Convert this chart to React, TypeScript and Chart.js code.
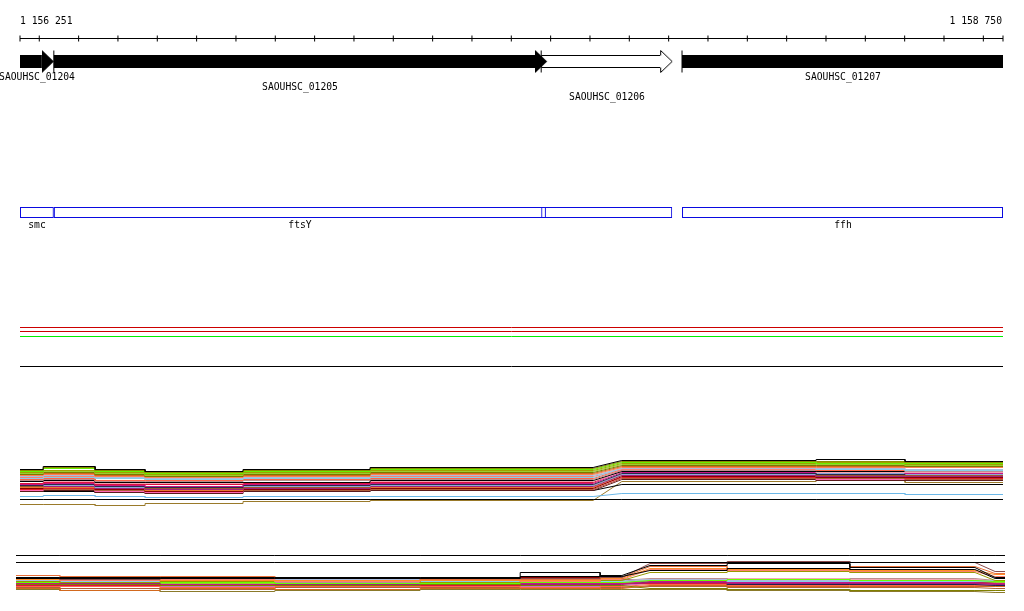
import React, { useEffect, useRef } from "react";
import { Chart, registerables } from "chart.js";
Chart.register(...registerables);

// ---------- data ----------
const VIEW_START = 1156251;
const VIEW_END = 1158750;
const RULER_TICKS = [
  1156251, 1156300, 1156400, 1156500, 1156600, 1156700, 1156800, 1156900, 1157000,
  1157100, 1157200, 1157300, 1157400, 1157500, 1157600, 1157700, 1157800, 1157900,
  1158000, 1158100, 1158200, 1158300, 1158400, 1158500, 1158600, 1158700, 1158750,
];
const RULER_LABELS = ["1 156 251", "1 158 750"];

const GENE_NAMES = ["SAOUHSC_01204", "SAOUHSC_01205", "SAOUHSC_01206", "SAOUHSC_01207"];
const GENE_STARTS = [1156180, 1156337, 1157576, 1157934];
const GENE_ENDS = [1156337, 1157591, 1157909, 1158820];
const GENE_FILLED = [true, true, false, true];
const GENE_LABEL_LEVEL = [0, 1, 2, 0];

const FEATURE_NAMES = ["smc", "ftsY", "", "ffh"];
const FEATURE_STARTS = [1156251, 1156337, 1157576, 1157934];
const FEATURE_ENDS = [1156337, 1157588, 1157909, 1158750];

const FLAT_LEVELS = [42, 38, 33, 3];
const FLAT_COLORS = ["#cc0000", "#cc0000", "#00ee00", "#000000"];

// middle expression panel: segment breaks (bp); ramp = sloped join
const MID_BREAKS = [1156251, 1156310, 1156442, 1156569, 1156818, 1157141, 1157708, 1157781, 1158275, 1158501, 1158750];
const MID_RAMPS = [false, false, false, false, false, false, true, false, false, false];
const mid01 = [40, 43, 40, 38, 40, 42, 49, 50, 48];
const mid02 = [39, 42, 39, 37, 39, 41, 48, 48, 47];
const mid03 = [38, 41, 38, 36, 38, 40, 47, 46, 46];
const mid04 = [37, 39, 37, 35, 37, 39, 46, 47, 45];
const mid05 = [36, 38, 36, 34, 36, 38, 45, 45, 44];
const mid06 = [35, 37, 35, 33, 35, 37, 44, 44, 43];
const mid07 = [35, 36, 34, 33, 34, 36, 43, 43, 43];
const mid08 = [34, 35, 33, 32, 33, 35, 42, 42, 42];
const mid09 = [33, 34, 32, 31, 32, 34, 41, 41, 40];
const mid10 = [31, 32, 31, 30, 31, 32, 41, 40, 39];
const mid11 = [32, 33, 31, 30, 31, 33, 40, 40, 40];
const mid12 = [30, 31, 29, 29, 30, 31, 40, 39, 39];
const mid13 = [29, 30, 28, 28, 29, 30, 39, 39, 38];
const mid14 = [28, 29, 27, 27, 27, 29, 38, 38, 38];
const mid15 = [28, 28, 26, 26, 27, 28, 38, 37, 37];
const mid16 = [26, 27, 25, 25, 26, 27, 39, 38, 38];
const mid17 = [25, 26, 24, 23, 25, 26, 37, 37, 36];
const mid18 = [24, 25, 23, 22, 24, 25, 36, 35, 36];
const mid19 = [25, 24, 22, 23, 23, 24, 35, 36, 35];
const mid20 = [23, 24, 22, 21, 22, 24, 35, 34, 34];
const mid21 = [23, 23, 21, 20, 21, 23, 34, 33, 33];
const mid22 = [22, 22, 21, 19, 21, 22, 34, 33, 34];
const mid23 = [21, 22, 20, 18, 20, 21, 33, 32, 32];
const mid24 = [20, 21, 20, 20, 21, 22, 32, 32, 31];
const mid25 = [20, 20, 19, 18, 19, 20, 31, 31, 30];
const mid26 = [19, 20, 18, 17, 19, 20, 31, 30, 30];
const mid27 = [18, 19, 17, 16, 18, 19, 30, 29, 29];
const mid28 = [18, 18, 17, 17, 18, 19, 25, 25, 25];
const mid29 = [13, 14, 13, 12, 13, 13, 16, 16, 15];
const mid30 = [10, 10, 10, 10, 10, 10, 10, 10, 10];
const mid31 = [5, 5, 4, 6, 8, 9, 28, 29, 27];
const MID_SERIES = [mid01, mid02, mid03, mid04, mid05, mid06, mid07, mid08, mid09, mid10, mid11, mid12, mid13, mid14, mid15, mid16, mid17, mid18, mid19, mid20, mid21, mid22, mid23, mid24, mid25, mid26, mid27, mid28, mid29, mid30, mid31];
const MID_COLORS = ["#000000", "#8c8c00", "#66ee00", "#a0a000", "#9acd32", "#7a7a00", "#d2691e", "#ff7f50", "#a9bde0", "#87ceeb", "#fa8072", "#ff6347", "#bc8f8f", "#000000", "#f4a0b0", "#dc143c", "#c71585", "#2b2b4b", "#8fa8d8", "#a0522d", "#a0207a", "#e87830", "#8b0000", "#e0202a", "#b0603a", "#ff69b4", "#5a1a1a", "#000000", "#6cb8e8", "#000000", "#9a7a2a"];

// bottom expression panel
const BOT_BREAKS = [1156251, 1156362, 1156615, 1156905, 1157272, 1157525, 1157727, 1157782, 1157853, 1158048, 1158358, 1158674, 1158725, 1158750];
const BOT_RAMPS = [false, false, false, false, false, false, false, true, false, false, false, true, false];
const bot01 = [44, 44, 44, 44, 44, 44, 44, 44, 44, 44, 44];
const bot02 = [37, 37, 37, 37, 37, 37, 37, 37, 37, 37, 37];
const bot03 = [22, 22, 22, 22, 22, 23, 24, 34, 36, 32, 22];
const bot04 = [21, 21, 21, 21, 21, 27, 23, 29, 31, 30, 21];
const bot05 = [21, 20, 21, 21, 21, 21, 22, 36, 38, 37, 28];
const bot06 = [24, 23, 23, 21, 20, 20, 22, 33, 31, 33, 26];
const bot07 = [20, 20, 19, 19, 19, 19, 21, 31, 30, 29, 25];
const bot08 = [20, 19, 20, 18, 19, 18, 20, 30, 29, 28, 23];
const bot09 = [18, 17, 18, 18, 17, 18, 19, 27, 28, 27, 19];
const bot10 = [15, 15, 14, 14, 15, 14, 14, 11, 10, 9, 9];
const bot11 = [17, 17, 17, 16, 16, 17, 17, 19, 20, 19, 18];
const bot12 = [19, 20, 20, 20, 19, 20, 19, 20, 19, 19, 19];
const bot13 = [19, 18, 19, 19, 18, 19, 18, 19, 18, 18, 18];
const bot14 = [16, 15, 15, 16, 15, 16, 16, 18, 17, 17, 16];
const bot15 = [15, 16, 14, 15, 16, 15, 15, 17, 16, 16, 15];
const bot16 = [14, 14, 15, 14, 14, 14, 16, 16, 17, 16, 16];
const bot17 = [17, 18, 17, 17, 18, 19, 19, 21, 20, 21, 19];
const bot18 = [20, 21, 19, 19, 20, 21, 20, 16, 15, 15, 14];
const bot19 = [11, 9, 11, 10, 11, 11, 11, 14, 13, 13, 13];
const bot20 = [13, 13, 12, 13, 13, 12, 13, 15, 14, 14, 14];
const bot21 = [12, 11, 10, 12, 12, 11, 12, 13, 12, 12, 11];
const bot22 = [16, 16, 16, 15, 15, 15, 16, 18, 18, 18, 17];
const bot23 = [18, 19, 18, 19, 18, 17, 18, 20, 21, 20, 19];
const bot24 = [21, 20, 20, 20, 21, 22, 21, 17, 18, 17, 17];
const bot25 = [14, 13, 13, 13, 13, 13, 14, 16, 15, 15, 15];
const bot26 = [17, 16, 16, 17, 17, 16, 17, 17, 16, 15, 15];
const bot27 = [10, 9, 8, 9, 10, 10, 10, 10, 9, 8, 7];
const BOT_SERIES = [bot01, bot02, bot03, bot04, bot05, bot06, bot07, bot08, bot09, bot10, bot11, bot12, bot13, bot14, bot15, bot16, bot17, bot18, bot19, bot20, bot21, bot22, bot23, bot24, bot25, bot26, bot27];
const BOT_COLORS = ["#000000", "#000000", "#000000", "#000000", "#8b4a4a", "#e8703a", "#ff8c28", "#fa8072", "#999900", "#808000", "#66ff00", "#a9bde0", "#87ceeb", "#c71585", "#a0207a", "#dc143c", "#bc8f8f", "#202050", "#d2691e", "#ff6347", "#b0603a", "#9acd32", "#f4a6b8", "#8b0000", "#d070c0", "#7090d0", "#8b7a2a"];

// ---------- layout ----------
const W = 1024;
const PAD_L = 20;
const PAD_R = 21;
const BOT_PAD_L = 16;
const BOT_PAD_R = 19;
const FONT = '9.7px "DejaVu Sans Mono"';
const HEAD_PX = 12;
const HEAD_BP = (HEAD_PX * (VIEW_END - VIEW_START)) / (W - PAD_L - PAD_R);

function buildSteps(breaks: number[], ramps: boolean[], values: number[]) {
  const pts: { x: number; y: number }[] = [];
  let k = 0;
  for (let i = 0; i < breaks.length - 1; i++) {
    if (ramps[i]) continue;
    pts.push({ x: breaks[i], y: values[k] }, { x: breaks[i + 1], y: values[k] });
    k++;
  }
  return pts;
}

function baseConfig(datasets: any[], h: number, reverse: boolean, padL: number, padR: number, plugins: any[] = []) {
  return {
    type: "scatter",
    data: { datasets },
    options: {
      responsive: false,
      animation: false,
      events: [],
      layout: { autoPadding: false, padding: { left: padL, right: padR, top: 0, bottom: 0 } },
      plugins: { legend: { display: false }, tooltip: { enabled: false }, title: { display: false } },
      scales: {
        x: { type: "linear", min: VIEW_START, max: VIEW_END, display: false, offset: false },
        y: { type: "linear", min: -0.5, max: h - 0.5, reverse, display: false, offset: false },
      },
    },
    plugins,
  } as any;
}

function lineDs(points: any[], color: string) {
  return {
    type: "line",
    data: points,
    borderColor: color,
    borderWidth: 1,
    pointRadius: 0,
    tension: 0,
    fill: false,
  };
}

function textPlugin(id: string, draw: (chart: any, ctx: CanvasRenderingContext2D) => void) {
  return {
    id,
    afterDatasetsDraw(chart: any) {
      const ctx = chart.ctx as CanvasRenderingContext2D;
      ctx.save();
      ctx.font = FONT;
      ctx.fillStyle = "#000";
      ctx.textBaseline = "alphabetic";
      draw(chart, ctx);
      ctx.restore();
    },
  };
}

// ---------- tracks ----------
const RULER_H = 45;
const AXIS_ROW = 38;
function rulerConfig() {
  const plugin = textPlugin("rulerLabels", (chart, ctx) => {
    const x = chart.scales.x;
    ctx.textAlign = "left";
    ctx.fillText(RULER_LABELS[0], Math.round(x.getPixelForValue(VIEW_START)), 24);
    ctx.textAlign = "right";
    ctx.fillText(RULER_LABELS[1], Math.round(x.getPixelForValue(VIEW_END)) - 1, 24);
  });
  return baseConfig(
    [
      {
        type: "scatter",
        data: RULER_TICKS.map((t) => ({ x: t, y: AXIS_ROW })),
        pointStyle: "line",
        pointRotation: 90,
        pointRadius: 3,
        pointBorderWidth: 1,
        pointBorderColor: "#000",
        clip: false,
      },
      lineDs([{ x: VIEW_START, y: AXIS_ROW }, { x: VIEW_END, y: AXIS_ROW }], "#000"),
    ],
    RULER_H,
    true,
    PAD_L,
    PAD_R,
    [plugin]
  );
}

const GENE_H = 60;
const GENE_ROW = 16;
const GENE_LABEL_BASE = 35;
function makeHead(filled: boolean) {
  const c = document.createElement("canvas");
  const pad = filled ? 0 : 2;
  c.width = 2 * (HEAD_PX + pad);
  c.height = 23;
  const g = c.getContext("2d")!;
  const tip = HEAD_PX + pad;
  if (filled) {
    g.fillStyle = "#000";
    g.beginPath();
    g.moveTo(0, 0);
    g.lineTo(tip, 11.5);
    g.lineTo(0, 23);
    g.closePath();
    g.fill();
  } else {
    g.fillStyle = "#fff";
    g.beginPath();
    g.moveTo(pad, 0);
    g.lineTo(tip, 11.5);
    g.lineTo(pad, 23);
    g.closePath();
    g.fill();
    g.fillRect(0, 6, pad + 1, 11);
    g.strokeStyle = "#000";
    g.lineWidth = 1;
    g.beginPath();
    g.moveTo(pad + 0.5, 5.5);
    g.lineTo(pad + 0.5, 0.5);
    g.lineTo(tip, 11.5);
    g.lineTo(pad + 0.5, 22.5);
    g.lineTo(pad + 0.5, 17.5);
    g.stroke();
  }
  return c;
}
function geneConfig() {
  const headIdx = GENE_ENDS.map((e, i) => i).filter((i) => GENE_ENDS[i] <= VIEW_END);
  const startIdx = GENE_STARTS.map((s, i) => i).filter((i) => GENE_STARTS[i] > VIEW_START);
  const black = makeHead(true);
  const white = makeHead(false);
  const plugin = textPlugin("geneLabels", (chart, ctx) => {
    const x = chart.scales.x;
    ctx.textAlign = "center";
    GENE_NAMES.forEach((name, i) => {
      const a = x.getPixelForValue(Math.max(GENE_STARTS[i], VIEW_START));
      const b = x.getPixelForValue(Math.min(GENE_ENDS[i], VIEW_END));
      ctx.fillText(name, Math.round((a + b) / 2), GENE_LABEL_BASE + GENE_LABEL_LEVEL[i] * 10);
    });
  });
  return baseConfig(
    [
      {
        type: "scatter",
        data: startIdx.map((i) => ({ x: GENE_STARTS[i], y: GENE_ROW })),
        pointStyle: "line",
        pointRotation: 90,
        pointRadius: 11,
        pointBorderWidth: 1,
        pointBorderColor: "#000",
        clip: false,
      },
      {
        type: "scatter",
        data: headIdx.map((i) => ({ x: GENE_ENDS[i], y: GENE_ROW })),
        pointStyle: headIdx.map((i) => (GENE_FILLED[i] ? black : white)),
        pointRadius: 1,
        clip: false,
      },
      {
        type: "bar",
        indexAxis: "y",
        data: GENE_NAMES.map((_, i) => ({
          x: [GENE_STARTS[i], GENE_ENDS[i] <= VIEW_END ? GENE_ENDS[i] - HEAD_BP : GENE_ENDS[i]],
          y: GENE_ROW,
        })),
        backgroundColor: GENE_FILLED.map((f) => (f ? "#000" : "#fff")),
        borderColor: "#000",
        borderWidth: GENE_FILLED.map((f) => (f ? 0 : 1)),
        borderSkipped: false,
        barThickness: 13,
        inflateAmount: 0,
        clip: 0,
      },
    ],
    GENE_H,
    true,
    PAD_L,
    PAD_R,
    [plugin]
  );
}

const BOX_H = 35;
const BOX_ROW = 12;
const BOX_LABEL_BASE = 28;
function boxConfig() {
  const plugin = textPlugin("boxLabels", (chart, ctx) => {
    const x = chart.scales.x;
    ctx.textAlign = "center";
    FEATURE_NAMES.forEach((name, i) => {
      const a = x.getPixelForValue(FEATURE_STARTS[i]);
      const b = x.getPixelForValue(FEATURE_ENDS[i]);
      if (name) ctx.fillText(name, Math.round((a + b) / 2), BOX_LABEL_BASE);
    });
  });
  return baseConfig(
    [
      {
        type: "bar",
        indexAxis: "y",
        data: FEATURE_NAMES.map((_, i) => ({ x: [FEATURE_STARTS[i], FEATURE_ENDS[i]], y: BOX_ROW })),
        backgroundColor: "rgba(0,0,0,0)",
        borderColor: "#0a0ae0",
        borderWidth: 1,
        borderSkipped: false,
        barThickness: 11,
        inflateAmount: 0,
        clip: 0,
      },
    ],
    BOX_H,
    true,
    PAD_L,
    PAD_R,
    [plugin]
  );
}

const FLAT_H = 50;
function flatConfig() {
  return baseConfig(
    FLAT_LEVELS.map((v, i) => lineDs([{ x: VIEW_START, y: v }, { x: VIEW_END, y: v }], FLAT_COLORS[i])),
    FLAT_H,
    false,
    PAD_L,
    PAD_R
  );
}

const MID_H = 65;
function midConfig() {
  return baseConfig(
    MID_SERIES.map((s, i) => lineDs(buildSteps(MID_BREAKS, MID_RAMPS, s), MID_COLORS[i])),
    MID_H,
    false,
    PAD_L,
    PAD_R
  );
}

const BOT_H = 50;
function botConfig() {
  return baseConfig(
    BOT_SERIES.map((s, i) => lineDs(buildSteps(BOT_BREAKS, BOT_RAMPS, s), BOT_COLORS[i])),
    BOT_H,
    false,
    BOT_PAD_L,
    BOT_PAD_R
  );
}

function Track({ top, height, build }: { top: number; height: number; build: () => any }) {
  const ref = useRef<HTMLCanvasElement>(null);
  useEffect(() => {
    const chart = new Chart(ref.current as HTMLCanvasElement, build());
    return () => chart.destroy();
  }, []);
  return (
    <canvas
      ref={ref}
      width={W}
      height={height}
      style={{ position: "absolute", left: 0, top, width: W, height, display: "block" }}
    />
  );
}

export default function App() {
  return (
    <div style={{ position: "absolute", left: 0, top: 0, width: W, height: 611, background: "#fff", overflow: "hidden" }}>
      <Track top={0} height={RULER_H} build={rulerConfig} />
      <Track top={45} height={GENE_H} build={geneConfig} />
      <Track top={200} height={BOX_H} build={boxConfig} />
      <Track top={320} height={FLAT_H} build={flatConfig} />
      <Track top={445} height={MID_H} build={midConfig} />
      <Track top={550} height={BOT_H} build={botConfig} />
    </div>
  );
}
